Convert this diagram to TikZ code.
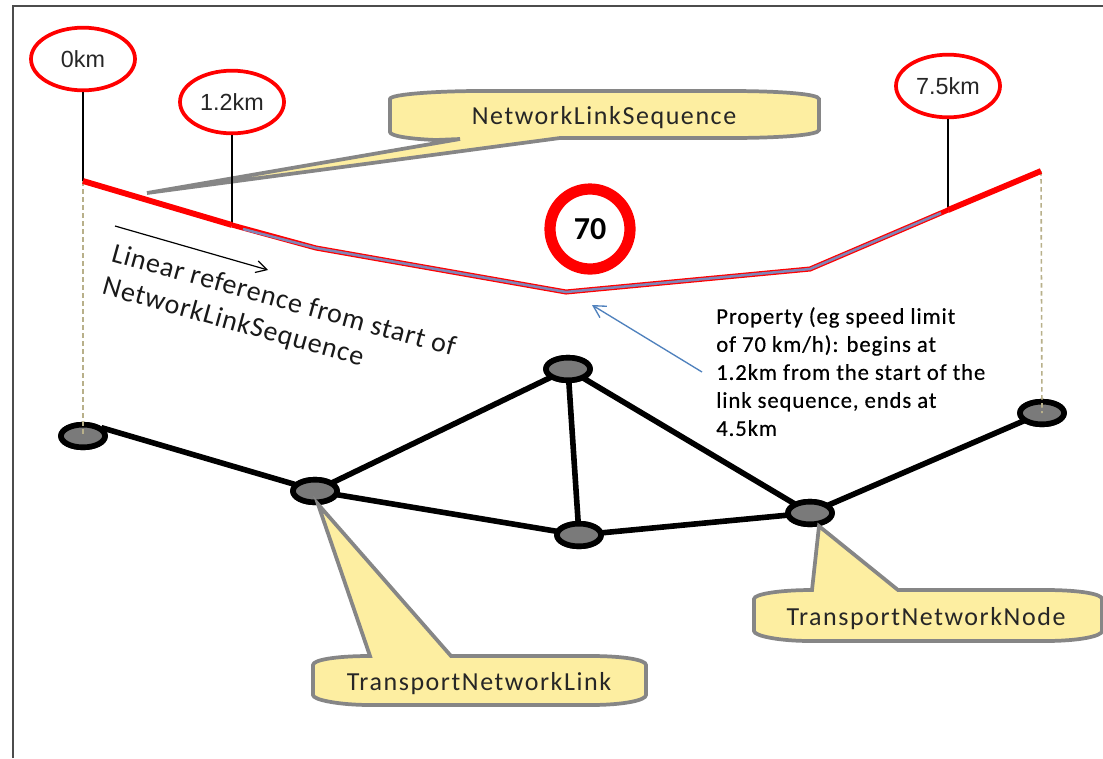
\documentclass[tikz,border=0pt]{standalone}
\usepackage{fontspec}
\setmainfont{Carlito}
\newfontfamily\armfont{Liberation Sans}
\newfontfamily\calfont[LetterSpace=6]{Carlito}
\newfontfamily\linfont[LetterSpace=3]{Carlito}
\newfontfamily\propfont[LetterSpace=4,FakeBold=0.4]{Carlito}
\usetikzlibrary{shapes.geometric,arrows.meta}
\definecolor{calloutfill}{HTML}{FDEEA1}
\definecolor{calloutline}{HTML}{868686}
\definecolor{tan}{HTML}{B8B08A}
\definecolor{propblue}{HTML}{4F81BD}
\definecolor{propcore}{HTML}{7F86B8}
\tikzset{
  x=0.75pt,y=-0.75pt,
  kmlabel/.style={ellipse,draw=red,line width=2.8pt,fill=white,minimum width=78pt,minimum height=47pt,inner sep=0pt,font=\armfont\fontsize{17.5}{20}\selectfont,text=black!85},
  netnode/.style={ellipse,draw=black,line width=4.2pt,fill=black!52,minimum width=33pt,minimum height=17pt,inner sep=0pt},
  netlink/.style={draw=black,line width=4.2pt,shorten <=-2pt,shorten >=-2pt},
  stem/.style={draw=black,line width=0.9pt},
  dropline/.style={draw=tan,line width=1.2pt,dash pattern=on 3.5pt off 2.5pt},
  thickseq/.style={draw=red,line width=4.4pt},
  thinseq/.style={draw=red,line width=3.8pt},
  coreseq/.style={draw=propcore,line width=1.9pt},
  callout/.style={draw=calloutline,line width=2.8pt,fill=calloutfill,line join=miter},
  calltext/.style={font=\calfont\fontsize{19.5}{22}\selectfont,text=black!85},
}
\begin{document}
\begin{tikzpicture}
\useasboundingbox (0,0) rectangle (1103,758);
\fill[white] (0,0) rectangle (1103,758);
% frame
\draw[draw=black!70,line width=1.1pt] (13,758) -- (13,6) -- (1103,6);

% sequence coordinates
\coordinate (s0) at (83,181);
\coordinate (s1) at (232,225);
\coordinate (s1b) at (243,229);
\coordinate (s2) at (316,248);
\coordinate (s3) at (566,292);
\coordinate (s4) at (810,269);
\coordinate (s5b) at (941,213);
\coordinate (s5) at (948,210);
\coordinate (s6) at (1041,171);

% network links under the nodes
\path (83,436) node[netnode,name=n1] {} (315,491) node[netnode,name=n2] {}
      (568,369) node[netnode,name=n3] {} (579,535) node[netnode,name=n4] {}
      (810,513) node[netnode,name=n5] {} (1042,413) node[netnode,name=n6] {};
\draw[netlink] (n1.20) -- (n2.162);
\draw[netlink] (n2) -- (n3);
\draw[netlink] (n2) -- (n4);
\draw[netlink] (n3) -- (n4);
\draw[netlink] (n3) -- (n5);
\draw[netlink] (n4) -- (n5);
\draw[netlink] (n5) -- (n6);
% redraw the node interiors above the link ends
\foreach \nn in {n1,n2,n3,n4,n5,n6}{
  \draw[draw=black,line width=4.2pt,fill=black!52] (\nn.center) ellipse [x radius=22,y radius=11.3];
}

% dropped dashed lines
\draw[dropline] (s0) -- (n1.center);
\draw[dropline] (s6) -- (n6.center);

% callout for the link sequence (under the line)
\coordinate (tipA) at (147,193);
\draw[callout] (tipA) -- (460,139) -- (436,140) .. controls (410,139) and (390,136) .. (390,132)
  -- (390,99) .. controls (390,94) and (440,91) .. (480,91)
  -- (730,91) .. controls (780,91) and (819,94) .. (819,99)
  -- (819,130) .. controls (819,135) and (780,138) .. (730,138)
  -- (560,138) -- cycle;
\node[calltext] (seqlabel) at (604,118) {NetworkLinkSequence};

% km markers
\node[kmlabel] (km0) at (83,59) {0km};
\node[kmlabel] (km12) at (232,102) {1.2km};
\node[kmlabel] (km75) at (948,86) {7.5km};
\draw[stem] (km0) -- (s0);
\draw[stem] (km12) -- (s1);
\draw[stem] (km75) -- (s5);

% sequence
\draw[thinseq,line join=miter] (s1) -- (s2) -- (s3) -- (s4) -- (s5);
\draw[coreseq] (s1b) -- (s2) -- (s3) -- (s4) -- (s5b);
\draw[thickseq] (s0) -- (s1);
\draw[thickseq] (s5) -- (s6);

% speed sign
\node[circle,draw=red,line width=8.4pt,fill=white,minimum size=60pt,inner sep=0pt,font=\bfseries\fontsize{24}{27}\selectfont] (sign) at (590,229) {70};

% linear reference
\coordinate (la) at (115,226);
\coordinate (lb) at (268,270);
\draw[black,line width=0.9pt,-{Straight Barb[length=8pt,width=9pt]}] (la) -- (lb);
\node[rotate=-15.5,align=left,font=\linfont\fontsize{21}{25.5}\selectfont,text=black!90,inner sep=0pt] (linref) at (279,318)
  {Linear reference from start of\\NetworkLinkSequence};

% property
\node[anchor=north west,align=left,inner sep=0pt,font=\propfont\fontsize{17}{21}\selectfont,text=black] (prop) at (716,307)
  {Property (eg speed limit\\of 70 km/h): begins at\\1.2km from the start of the\\link sequence, ends at\\4.5km};
\coordinate (pa) at (702,372);
\coordinate (pb) at (592,305);
\draw[propblue,line width=1pt,-{Straight Barb[length=9pt,width=10pt]}] (pa) -- (pb);

% callout link
\draw[callout] (n2.south) ++(3,-1) coordinate (tipB) -- (370,656)
  .. controls (335,656) and (313,660) .. (313,665) -- (313,695)
  .. controls (313,700) and (340,705) .. (370,705) -- (590,705)
  .. controls (625,705) and (646,700) .. (646,695) -- (646,665)
  .. controls (646,660) and (625,656) .. (590,656) -- (451,656) -- cycle;
\node[calltext] (linklabel) at (479,684) {TransportNetworkLink};

% callout node
\draw[callout] (n5.south) ++(9,-1) coordinate (tipC) -- (812,590)
  .. controls (780,590) and (754,594) .. (754,599) -- (754,631)
  .. controls (754,636) and (780,641) .. (810,641) -- (1045,641)
  .. controls (1080,641) and (1102,636) .. (1102,631) -- (1102,599)
  .. controls (1102,594) and (1080,590) .. (1045,590) -- (898,590) -- cycle;
\node[calltext] (nodelabel) at (926,619) {TransportNetworkNode};
\end{tikzpicture}
\end{document}
